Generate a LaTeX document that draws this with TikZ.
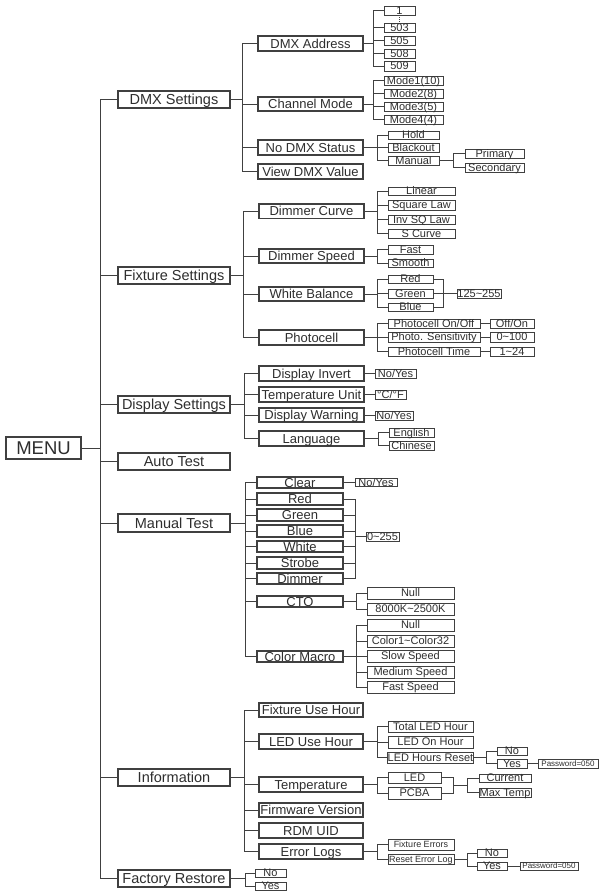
\documentclass[tikz,border=0pt]{standalone}
\usepackage{fontspec}
\setmainfont{Liberation Sans}
\tikzset{
  bx/.style={draw=black!75, line width=1.1pt, inner sep=0pt, outer sep=0pt, text depth=0pt, text=black!82},
  l0/.style={bx, line width=1.2pt, text height=13.2pt, font=\fontsize{18.5}{18.5}\selectfont},
  l1/.style={bx, line width=1.15pt, text height=10.4pt, font=\fontsize{14.5}{14.5}\selectfont},
  l2/.style={bx, line width=1.15pt, text height=9.3pt, font=\fontsize{13}{13}\selectfont},
  l3/.style={bx, line width=1pt, text height=7.9pt, font=\fontsize{11}{11}\selectfont},
  s9/.style={bx, line width=1pt, text height=6.5pt, font=\fontsize{9}{9}\selectfont},
  s8/.style={bx, line width=0.9pt, text height=5.8pt, font=\fontsize{8}{8}\selectfont},
  ln/.style={draw=black!75, line width=1pt, line cap=rect},
}
\newcommand\mybox[7]{\node[#6, minimum width={(#4-#2)*1pt}, minimum height={(#5-#3)*1pt}] (#1) at ({(#2+#4)/2},{(#3+#5)/2}) {#7};}
\newcommand\fan[5]{%
  \coordinate (T) at (#2,0);
  \draw[ln] (#1.east) -- (T |- #1.east);
  \draw[ln] (T |- #3.west) -- (T |- #4.west);
  \foreach \ch in {#5} {\draw[ln] (T |- \ch.west) -- (\ch.west);}
}
\newcommand\merge[4]{%
  \coordinate (M) at (#1,0);
  \foreach \ch in {#4} {\draw[ln] (\ch.east) -- (M |- \ch.east);}
  \draw[ln] (M |- #2.east) -- (M |- #3.east);
}
\newcommand\single[2]{\draw[ln] (#1.east) -- (#1.east -| #2.west);}
\begin{document}
\begin{tikzpicture}[x=1pt,y=-1pt]
\useasboundingbox[fill=white] (0,0) rectangle (606,895);
% level 0
\mybox{menu}{6}{437}{81}{459}{l0}{MENU}
% level 1
\mybox{dmx}{118}{91}{230}{108}{l1}{DMX Settings}
\mybox{fix}{118}{267}{230}{284}{l1}{Fixture Settings}
\mybox{disp}{118}{396}{230}{413}{l1}{Display Settings}
\mybox{auto}{118}{453}{230}{470}{l1}{Auto Test}
\mybox{man}{118}{514}{230}{532}{l1}{Manual Test}
\mybox{info}{118}{769}{230}{786}{l1}{Information}
\mybox{fac}{118}{870}{230}{887}{l1}{Factory Restore}
\fan{menu}{100}{dmx}{fac}{dmx,fix,disp,auto,man,info,fac}
% DMX settings
\mybox{dmxaddr}{258}{36}{363}{51}{l2}{DMX Address}
\mybox{chmode}{258}{97}{363}{111}{l2}{Channel Mode}
\mybox{nodmx}{258}{140}{363}{155}{l2}{No DMX Status}
\mybox{viewdmx}{258}{164}{363}{179}{l2}{View DMX Value}
\fan{dmx}{242}{dmxaddr}{viewdmx}{dmxaddr,chmode,nodmx,viewdmx}
\mybox{a1}{384}{6}{415}{15}{l3}{1}
\mybox{a503}{384}{23}{415}{32}{l3}{503}
\mybox{a505}{384}{36}{415}{45}{l3}{505}
\mybox{a508}{384}{49}{415}{58}{l3}{508}
\mybox{a509}{384}{61}{415}{71}{l3}{509}
\fan{dmxaddr}{373}{a1}{a509}{a1,a503,a505,a508,a509}
\draw[ln, line cap=butt, densely dotted, line width=0.8pt] (a1.south) -- (a503.north);
\mybox{m1}{384}{76}{443}{85}{l3}{Mode1(10)}
\mybox{m2}{384}{89}{443}{98}{l3}{Mode2(8)}
\mybox{m3}{384}{102}{443}{111}{l3}{Mode3(5)}
\mybox{m4}{384}{115}{443}{124}{l3}{Mode4(4)}
\fan{chmode}{373}{m1}{m4}{m1,m2,m3,m4}
\mybox{hold}{388}{131}{439}{139}{l3}{Hold}
\mybox{blk}{388}{143}{439}{152}{l3}{Blackout}
\mybox{manual}{388}{156}{439}{165}{l3}{Manual}
\fan{nodmx}{377}{hold}{manual}{hold,blk,manual}
\mybox{prim}{465}{149}{524}{158}{l3}{Primary}
\mybox{sec}{465}{163}{524}{172}{l3}{Secondary}
\fan{manual}{453}{prim}{sec}{prim,sec}
% Fixture settings
\mybox{dcurve}{259}{204}{364}{218.5}{l2}{Dimmer Curve}
\mybox{dspeed}{259}{249}{364}{263}{l2}{Dimmer Speed}
\mybox{wb}{259}{287}{364}{301}{l2}{White Balance}
\mybox{photo}{259}{330}{364}{345}{l2}{Photocell}
\fan{fix}{243}{dcurve}{photo}{dcurve,dspeed,wb,photo}
\mybox{lin}{388}{187}{455}{195}{l3}{Linear}
\mybox{sq}{388}{200}{455}{210}{l3}{Square Law}
\mybox{inv}{388}{215}{455}{224}{l3}{Inv SQ Law}
\mybox{scur}{388}{229}{455}{238}{l3}{S Curve}
\fan{dcurve}{377.5}{lin}{scur}{lin,sq,inv,scur}
\mybox{fast}{388}{245}{433}{254}{l3}{Fast}
\mybox{smooth}{388}{259}{433}{267}{l3}{Smooth}
\fan{dspeed}{377.5}{fast}{smooth}{fast,smooth}
\mybox{red}{388}{275}{433}{283}{l3}{Red}
\mybox{green}{388}{289}{433}{298}{l3}{Green}
\mybox{blue}{388}{303}{433}{311}{l3}{Blue}
\fan{wb}{377.5}{red}{blue}{red,green,blue}
\mybox{r125}{457}{289}{501}{298}{l3}{125\textasciitilde 255}
\merge{443}{red}{blue}{red,green,blue}
\draw[ln] (M |- r125.west) -- (r125.west);
\mybox{pon}{388}{319}{480}{328}{l3}{Photocell On/Off}
\mybox{psens}{388}{332}{480}{342}{l3}{Photo. Sensitivity}
\mybox{ptime}{388}{347}{480}{356}{l3}{Photocell Time}
\fan{photo}{377.5}{pon}{ptime}{pon,psens,ptime}
\mybox{offon}{490}{319}{534}{328}{l3}{Off/On}
\mybox{v100}{490}{332}{534}{342}{l3}{0\textasciitilde 100}
\mybox{v24}{490}{347}{534}{356}{l3}{1\textasciitilde 24}
\single{pon}{offon}
\single{psens}{v100}
\single{ptime}{v24}
% Display settings
\mybox{dinv}{259}{366}{364}{381}{l2}{Display Invert}
\mybox{tunit}{259}{387}{364}{402}{l2}{Temperature Unit}
\mybox{dwarn}{259}{408}{364}{422}{l2}{Display Warning}
\mybox{lang}{259}{431}{364}{446}{l2}{Language}
\fan{disp}{244}{dinv}{lang}{dinv,tunit,dwarn,lang}
\mybox{noyesa}{375}{369.5}{416}{378.5}{l3}{No/Yes}
\mybox{cf}{375}{390.5}{406}{399.5}{l3}{°C/°F}
\mybox{noyesb}{375}{411}{413}{420}{l3}{No/Yes}
\single{dinv}{noyesa}
\single{tunit}{cf}
\single{dwarn}{noyesb}
\mybox{eng}{389}{428}{434}{437}{l3}{English}
\mybox{chi}{389}{441}{434}{450}{l3}{Chinese}
\fan{lang}{378}{eng}{chi}{eng,chi}
% Manual test
\mybox{clear}{257}{477}{343}{488}{l2}{Clear}
\mybox{mred}{257}{493}{343}{505}{l2}{Red}
\mybox{mgreen}{257}{509}{343}{521}{l2}{Green}
\mybox{mblue}{257}{525}{343}{537}{l2}{Blue}
\mybox{mwhite}{257}{541}{343}{552}{l2}{White}
\mybox{strobe}{257}{557}{343}{569}{l2}{Strobe}
\mybox{dimmer}{257}{573}{343}{584}{l2}{Dimmer}
\mybox{cto}{257}{596}{343}{607}{l2}{CTO}
\mybox{cmac}{257}{651}{343}{662}{l2}{Color Macro}
\fan{man}{245.5}{clear}{cmac}{clear,mred,mgreen,mblue,mwhite,strobe,dimmer,cto,cmac}
\mybox{noyesc}{355}{478}{397}{486.5}{l3}{No/Yes}
\single{clear}{noyesc}
\mybox{v255}{366}{532}{399}{541}{l3}{0\textasciitilde 255}
\merge{355.5}{mred}{dimmer}{mred,mgreen,mblue,mwhite,strobe,dimmer}
\draw[ln] (M |- v255.west) -- (v255.west);
\mybox{nulla}{367}{587}{454}{599}{l3}{Null}
\mybox{kel}{367}{603}{454}{615}{l3}{8000K\textasciitilde 2500K}
\fan{cto}{356.5}{nulla}{kel}{nulla,kel}
\mybox{nullb}{367}{619}{454}{631}{l3}{Null}
\mybox{cthree}{367}{635}{454}{647}{l3}{Color1\textasciitilde Color32}
\mybox{slow}{367}{650}{454}{662}{l3}{Slow Speed}
\mybox{med}{367}{666}{454}{678}{l3}{Medium Speed}
\mybox{fastsp}{367}{681}{454}{693}{l3}{Fast Speed}
\fan{cmac}{356.5}{nullb}{fastsp}{nullb,cthree,slow,med,fastsp}
% Information
\mybox{fuh}{259}{703}{363}{717}{l2}{Fixture Use Hour}
\mybox{luh}{259}{734}{363}{749}{l2}{LED Use Hour}
\mybox{temp}{259}{777}{363}{792}{l2}{Temperature}
\mybox{fw}{259}{803}{363}{817}{l2}{Firmware Version}
\mybox{rdm}{259}{823}{363}{838}{l2}{RDM UID}
\mybox{err}{259}{844}{363}{859}{l2}{Error Logs}
\fan{info}{244}{fuh}{err}{fuh,luh,temp,fw,rdm,err}
\mybox{tlh}{388}{721}{473}{732}{l3}{Total LED Hour}
\mybox{loh}{388}{736}{473}{748}{l3}{LED On Hour}
\mybox{lhr}{388}{752}{473}{763}{l3}{LED Hours Reset}
\fan{luh}{377.5}{tlh}{lhr}{tlh,loh,lhr}
\mybox{noa}{497}{747}{527}{755}{l3}{No}
\mybox{yesa}{497}{759}{527}{768}{l3}{Yes}
\fan{lhr}{486}{noa}{yesa}{noa,yesa}
\mybox{pwa}{538}{759}{598}{768}{s8}{Password=050}
\single{yesa}{pwa}
\mybox{led}{388}{772}{441}{783}{l3}{LED}
\mybox{pcba}{388}{787}{441}{799}{l3}{PCBA}
\fan{temp}{377.5}{led}{pcba}{led,pcba}
\merge{453}{led}{pcba}{led,pcba}
\mybox{cur}{479}{774}{531}{782}{l3}{Current}
\mybox{maxt}{479}{788}{531}{797}{l3}{Max Temp}
\coordinate (tj) at (467,785);
\draw[ln] (M |- tj) -- (tj);
\draw[ln] (tj |- cur.west) -- (tj |- maxt.west);
\draw[ln] (tj |- cur.west) -- (cur.west);
\draw[ln] (tj |- maxt.west) -- (maxt.west);
\mybox{ferr}{388}{839}{454}{850}{s9}{Fixture Errors}
\mybox{rerr}{388}{854}{454}{864}{s9}{Reset Error Log}
\fan{err}{377.5}{ferr}{rerr}{ferr,rerr}
\mybox{nob}{477}{849}{507}{857}{l3}{No}
\mybox{yesb}{477}{862}{507}{870}{l3}{Yes}
\fan{rerr}{467}{nob}{yesb}{nob,yesb}
\mybox{pwb}{520}{862}{578}{870}{s8}{Password=050}
\single{yesb}{pwb}
% Factory restore
\mybox{fno}{255}{869}{286}{877}{l3}{No}
\mybox{fyes}{255}{882}{286}{890}{l3}{Yes}
\fan{fac}{245}{fno}{fyes}{fno,fyes}
\end{tikzpicture}
\end{document}
